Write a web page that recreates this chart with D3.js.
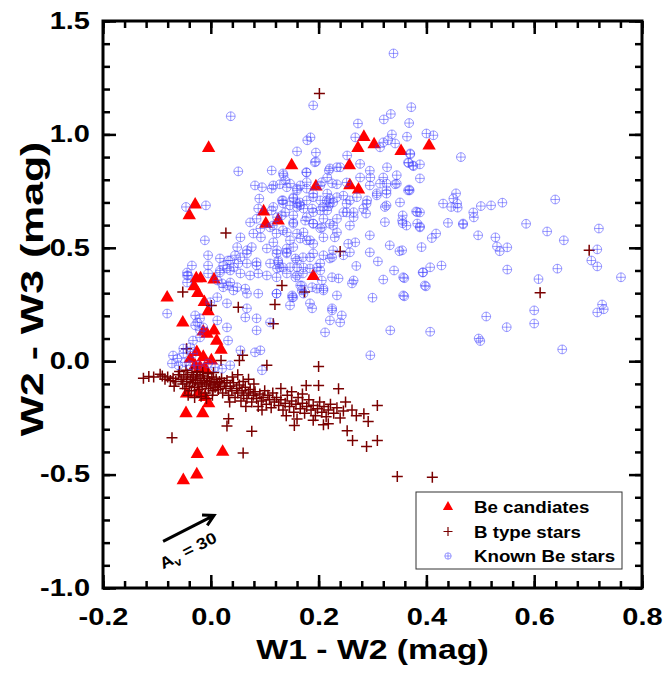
<!DOCTYPE html>
<html lang="en">
<head>
<meta charset="utf-8">
<title>WISE colour-colour diagram</title>
<script src="https://cdn.jsdelivr.net/npm/d3@7"></script>
<style>
  body { margin: 0; background: #fff; }
  text { font-family: "Liberation Sans", Arial, sans-serif; font-weight: bold; }
</style>
</head>
<body>
<script>

var width = 665;
var height = 675;

// tick labels
var xTicks = [-0.2, 0.0, 0.2, 0.4, 0.6, 0.8];
var yTicks = [-1.0, -0.5, 0.0, 0.5, 1.0, 1.5];
var legendLabels = ["Be candiates", "B type stars", "Known Be stars"];

// Be candidates (W1-W2, W2-W3)
var beCandidates = [
  [-0.004,0.94],[-0.029,0.69],[-0.040,0.643],[0.150,0.863],[0.195,0.770],[0.098,0.660],
  [0.102,0.606],[0.125,0.620],[0.190,0.375],[-0.081,0.280],[-0.027,0.365],[-0.019,0.365],
  [0.006,0.360],[-0.031,0.330],[-0.024,0.300],[-0.012,0.260],[-0.005,0.220],[-0.052,0.170],
  [-0.014,0.130],[-0.007,0.120],[0.006,0.135],[0.011,0.090],[0.019,0.050],[-0.026,0.040],
  [-0.038,0.010],[-0.014,0.018],[0.001,0.003],[-0.029,-0.020],[-0.020,-0.026],[-0.011,-0.030],
  [-0.045,-0.143],[-0.023,-0.140],[-0.011,-0.158],[-0.004,-0.186],[-0.046,-0.230],[-0.015,-0.230],
  [-0.025,-0.410],[0.022,-0.400],[-0.051,-0.525],[-0.026,-0.500],[0.284,0.988],[0.303,0.956],
  [0.273,0.940],[0.353,0.926],[0.405,0.950],[0.257,0.863],[0.258,0.775],[0.274,0.756]
];

// B type stars
var bTypeStars = [
  [-0.060,-0.060],[-0.055,-0.080],[-0.052,-0.100],[-0.050,-0.070],[-0.048,-0.120],[-0.045,-0.090],
  [-0.043,-0.060],[-0.040,-0.110],[-0.038,-0.080],[-0.036,-0.130],[-0.034,-0.095],[-0.032,-0.070],
  [-0.030,-0.115],[-0.028,-0.085],[-0.026,-0.060],[-0.024,-0.100],[-0.022,-0.125],[-0.020,-0.075],
  [-0.018,-0.095],[-0.016,-0.110],[-0.014,-0.065],[-0.012,-0.085],[-0.010,-0.140],[-0.008,-0.100],
  [-0.006,-0.075],[-0.004,-0.120],[-0.002,-0.090],[0.000,-0.105],[0.002,-0.070],[0.004,-0.130],
  [0.006,-0.095],[0.008,-0.115],[0.010,-0.080],[0.012,-0.100],[0.014,-0.125],[0.016,-0.090],
  [0.018,-0.110],[0.020,-0.075],[-0.058,-0.045],[-0.046,-0.040],[-0.035,-0.050],[-0.025,-0.045],
  [-0.015,-0.050],[-0.005,-0.055],[0.005,-0.050],[-0.042,-0.150],[-0.030,-0.160],[-0.018,-0.155],
  [-0.008,-0.165],[0.003,-0.150],[-0.065,-0.090],[-0.070,-0.075],[-0.075,-0.085],[-0.068,-0.110],
  [-0.080,-0.070],[-0.085,-0.080],[-0.090,-0.065],
  [0.022,-0.140],[0.025,-0.095],[0.028,-0.120],[0.030,-0.085],[0.033,-0.150],[0.036,-0.110],
  [0.039,-0.130],[0.042,-0.095],[0.045,-0.160],[0.048,-0.120],[0.050,-0.140],[0.053,-0.105],
  [0.056,-0.175],[0.058,-0.130],[0.061,-0.150],[0.064,-0.115],[0.067,-0.165],[0.070,-0.140],
  [0.073,-0.125],[0.076,-0.180],[0.079,-0.150],[0.082,-0.135],[0.085,-0.165],[0.088,-0.200],
  [0.091,-0.145],[0.094,-0.175],[0.097,-0.160],[0.100,-0.130],[0.103,-0.190],[0.106,-0.150],
  [0.109,-0.170],[0.112,-0.205],[0.115,-0.140],[0.118,-0.180],[0.040,-0.070],[0.060,-0.090],
  [0.080,-0.100],[0.035,-0.180],[0.065,-0.200],[0.095,-0.215],[0.050,-0.060],[0.070,-0.080],
  [0.122,-0.160],[0.126,-0.195],[0.130,-0.170],[0.134,-0.215],[0.138,-0.185],[0.142,-0.150],
  [0.146,-0.200],[0.150,-0.175],[0.154,-0.225],[0.158,-0.190],[0.162,-0.160],[0.166,-0.210],
  [0.170,-0.185],[0.174,-0.230],[0.178,-0.200],[0.182,-0.170],[0.186,-0.215],[0.190,-0.195],
  [0.194,-0.240],[0.198,-0.210],[0.202,-0.180],[0.206,-0.225],[0.210,-0.200],[0.214,-0.245],
  [0.218,-0.215],[0.222,-0.190],[0.228,-0.230],[0.234,-0.205],[0.240,-0.250],[0.246,-0.220],
  [0.130,-0.120],[0.150,-0.135],[0.170,-0.145],[0.140,-0.240],[0.160,-0.255],[0.190,-0.260],
  [0.250,-0.180],[0.262,-0.215],[0.270,-0.240],
  [0.2015,1.18],[0.028,0.565],[0.132,0.334],[-0.052,0.305],[0.174,0.305],[0.240,0.484],
  [0.119,0.250],[0.001,0.246],[0.051,0.238],[0.116,0.165],[0.200,-0.023],[0.104,-0.018],
  [0.059,0.026],[0.053,0.003],[0.019,0.003],[-0.045,0.055],[-0.106,-0.070],[-0.094,-0.058],
  [-0.125,-0.075],[-0.115,-0.068],[-0.072,-0.337],[0.033,-0.254],[0.030,-0.286],[0.076,-0.309],
  [0.209,-0.280],[0.218,-0.276],[0.253,-0.307],[0.237,-0.121],[0.200,-0.107],[0.177,-0.107],
  [0.060,-0.405],[0.155,-0.283],[0.263,-0.350],[0.289,-0.376],[0.284,-0.232],[0.292,-0.266],
  [0.346,-0.508],[0.309,-0.195],[0.309,-0.350],[0.411,-0.512],[0.702,0.489],[0.611,0.302]
];

// Known Be stars
var knownBeStars = [
  [0.339,1.357],[0.190,1.128],[0.037,1.080],[0.372,1.120],[0.334,1.090],[0.321,1.066],
  [0.273,1.048],[0.368,1.050],[0.185,0.987],[0.179,0.974],[0.268,0.987],[0.336,1.000],
  [0.329,0.974],[0.364,0.990],[0.400,1.004],[0.413,0.996],[0.160,0.925],[0.195,0.920],
  [0.195,0.880],[0.253,0.907],[0.314,0.943],[0.320,0.965],[0.342,0.960],[0.370,0.916],
  [0.366,0.876],[0.375,0.863],[0.388,0.868],[0.464,0.900],[0.134,0.828],[0.178,0.832],
  [0.221,0.850],[0.240,0.855],[0.277,0.870],[0.295,0.840],[0.327,0.855],[0.388,0.806],
  [0.345,0.820],[0.320,0.810],[0.277,0.810],[0.296,0.810],[0.216,0.810],[0.203,0.775],
  [0.166,0.775],[0.141,0.767],[0.128,0.780],[0.234,0.780],[0.252,0.788],[0.314,0.783],
  [0.342,0.780],[0.366,0.753],[0.326,0.753],[0.308,0.740],[0.271,0.723],[0.246,0.730],
  [0.221,0.717],[0.190,0.723],[0.153,0.722],[0.134,0.696],[0.166,0.687],[0.208,0.680],
  [0.252,0.695],[0.289,0.695],[0.326,0.687],[0.351,0.700],[0.388,0.656],[0.431,0.695],
  [0.450,0.717],[0.457,0.695],
  [0.370,0.912],[0.367,0.874],[0.376,0.860],[0.368,0.757],[0.455,0.740],[0.446,0.680],
  [0.458,0.677],[0.501,0.684],[0.520,0.687],[0.541,0.699],[0.639,0.713],[0.381,0.660],
  [0.356,0.643],[0.356,0.608],[0.363,0.598],[0.388,0.594],[0.440,0.610],[0.468,0.603],
  [0.488,0.634],[0.585,0.606],[0.624,0.572],[0.720,0.585],[0.418,0.563],[0.410,0.543],
  [0.496,0.555],[0.528,0.546],[0.655,0.533],[0.350,0.485],[0.391,0.503],[0.531,0.506],
  [0.536,0.485],[0.550,0.502],[0.717,0.493],[0.706,0.444],[0.717,0.418],[0.428,0.422],
  [0.407,0.414],[0.393,0.391],[0.550,0.404],[0.643,0.408],[0.761,0.370],[0.359,0.366],
  [0.608,0.362],[0.399,0.330],[0.359,0.286],[0.726,0.250],[0.729,0.229],[0.717,0.215],
  [0.600,0.224],[0.511,0.197],[0.549,0.150],[0.600,0.166],[0.407,0.130],[0.497,0.100],
  [0.500,0.089],[0.652,0.052],
  [0.116,0.775],[0.147,0.783],[0.160,0.753],[0.178,0.761],[0.216,0.739],[0.295,0.775],
  [0.326,0.783],[0.345,0.783],[0.369,0.753],[0.132,0.709],[0.160,0.695],[0.178,0.709],
  [0.203,0.709],[0.221,0.695],[0.234,0.723],[0.258,0.709],[0.290,0.709],[0.308,0.731],
  [0.326,0.739],[0.116,0.680],[0.147,0.687],[0.172,0.673],[0.190,0.657],[0.216,0.665],
  [0.246,0.657],[0.265,0.657],[0.283,0.673],[0.323,0.680],[0.383,0.657],[0.123,0.635],
  [0.153,0.643],[0.178,0.635],[0.209,0.628],[0.234,0.628],[0.265,0.635],[0.153,0.606],
  [0.190,0.606],[0.221,0.606],[0.258,0.598],[0.323,0.613],[0.388,0.590],[0.110,0.590],
  [0.134,0.577],[0.172,0.568],[0.203,0.586],[0.234,0.568],[0.116,0.524],[0.147,0.533],
  [0.166,0.541],[0.184,0.533],[0.295,0.555],[0.123,0.489],[0.141,0.497],[0.153,0.503],
  [0.190,0.518],[0.255,0.518],[0.268,0.524],[0.295,0.480],[0.332,0.511],[0.355,0.489],
  [0.125,0.444],[0.160,0.444],[0.184,0.458],[0.221,0.453],[0.246,0.467],[0.258,0.480],
  [0.123,0.409],[0.134,0.413],[0.147,0.414],[0.172,0.413],[0.197,0.413],[0.203,0.400],
  [0.394,0.392],[0.357,0.370],[0.237,0.365],[0.262,0.343],[0.265,0.356],[0.166,0.334],
  [0.397,0.334],[0.172,0.298],[0.197,0.320],[0.209,0.320],[0.234,0.290],[0.151,0.281],
  [0.184,0.255],[0.357,0.290],[0.147,0.246],[0.225,0.233],[0.243,0.202],[0.188,0.233],
  [0.051,0.837],[0.113,0.841],[0.135,0.820],[0.177,0.833],[0.193,0.877],[0.219,0.841],
  [0.234,0.855],[0.082,0.775],[0.095,0.767],[0.113,0.761],[0.138,0.797],[0.160,0.761],
  [0.178,0.789],[0.190,0.739],[0.206,0.789],[0.225,0.784],[0.090,0.717],[0.134,0.709],
  [0.153,0.717],[0.165,0.700],[0.215,0.709],[0.227,0.700],[-0.046,0.680],[-0.009,0.687],
  [0.088,0.673],[0.113,0.665],[0.132,0.643],[0.160,0.680],[0.188,0.673],[0.203,0.665],
  [0.218,0.683],[0.073,0.612],[0.085,0.628],[0.092,0.585],[0.115,0.598],[0.153,0.612],
  [0.175,0.620],[0.190,0.607],[0.206,0.590],[0.227,0.598],[0.055,0.546],[0.079,0.563],
  [0.093,0.546],[0.122,0.563],[0.141,0.568],[0.160,0.563],[0.178,0.533],[0.209,0.546],
  [0.230,0.546],[-0.011,0.533],[0.049,0.503],[0.067,0.489],[0.076,0.503],[0.104,0.497],
  [0.122,0.475],[0.141,0.480],[0.157,0.453],[0.171,0.458],[0.190,0.475],[0.209,0.467],
  [0.227,0.489],[0.036,0.444],[0.055,0.458],[0.067,0.431],[0.085,0.436],[0.110,0.431],
  [0.128,0.414],[0.160,0.414],[0.184,0.409],[0.203,0.431],[0.225,0.458],[-0.005,0.422],
  [0.017,0.400],[0.030,0.409],[0.042,0.414],[0.055,0.387],[0.073,0.378],[0.088,0.387],
  [0.104,0.378],[0.122,0.370],[0.141,0.387],[0.157,0.370],[0.171,0.387],[0.206,0.356],
  [0.225,0.370],[-0.044,0.378],[0.021,0.343],[0.032,0.334],[0.049,0.326],[0.064,0.320],
  [0.088,0.298],[0.122,0.298],[0.151,0.290],[0.169,0.312],[0.209,0.312],
  [0.032,0.444],[0.045,0.467],[0.051,0.431],[0.067,0.475],[0.085,0.422],[0.125,0.436],
  [0.141,0.475],[0.160,0.378],[0.169,0.334],[0.188,0.326],[0.225,0.224],[0.221,0.180],
  [0.212,0.127],[0.240,0.171],[0.153,0.282],[0.122,0.298],[0.067,0.298],[0.042,0.312],
  [0.023,0.326],[0.012,0.356],[0.017,0.391],[0.036,0.347],[-0.005,0.387],[-0.042,0.378],
  [-0.044,0.347],[-0.081,0.210],[-0.029,0.202],[-0.025,0.171],[-0.020,0.189],[0.012,0.180],
  [0.030,0.149],[0.064,0.193],[0.067,0.233],[0.085,0.189],[0.085,0.136],[0.110,0.171],
  [0.032,0.091],[0.055,0.048],[0.092,0.048],[0.082,0.039],[0.095,-0.040],[-0.033,0.091],
  [-0.020,0.105],[-0.038,0.061],[-0.051,0.056],[-0.070,0.025],[-0.062,0.012],[-0.072,-0.010],
  [-0.060,-0.018],[-0.048,-0.005],[-0.038,-0.018],[-0.024,-0.018],[-0.005,-0.010],[0.008,-0.027],
  [0.021,-0.033],[0.036,-0.018],[-0.051,0.034],[-0.033,0.034],[-0.020,0.136],[-0.029,0.158],
  [-0.014,0.149],[-0.044,0.391],[-0.035,0.422],[0.023,0.422],[0.036,0.400],[0.017,0.453],
  [-0.005,0.467],[0.012,0.282],[-0.001,0.260],[0.030,0.255],
  [0.138,0.656],[0.252,0.656],[0.288,0.651],[0.355,0.620],[0.383,0.607],[0.487,0.656],
  [0.468,0.607],[0.296,0.026],[0.333,0.136],[0.300,0.280],[0.320,0.360],[0.270,0.420],
  [0.310,0.440],[0.340,0.400]
];

var x = d3.scaleLinear().domain([-0.2, 0.8]).range([103, 642]);
var y = d3.scaleLinear().domain([-1.0, 1.5]).range([588, 21]);

var svg = d3.select("body").append("svg")
  .attr("width", width)
  .attr("height", height);

svg.append("rect").attr("width", width).attr("height", height).attr("fill", "#fff");

var fmt = function (d) { return d.toFixed(1); };
var xMinor = d3.range(-0.2, 0.801, 0.04);
var yMinor = d3.range(-1.0, 1.501, 0.1);

// the original lettering is wide, so labels get a horizontal stretch
var labelStretch = 1.26;

function styleAxis(g) {
  g.select(".domain").remove();
  g.selectAll(".tick line").attr("stroke", "#000").attr("stroke-width", 2.5);
  g.selectAll(".tick text").attr("fill", "#000").attr("font-size", 23)
    .style("font-family", "'Liberation Sans', Arial, sans-serif").style("font-weight", "bold")
    .each(function () {
      var t = d3.select(this);
      var tx = +t.attr("x") || 0, ty = +t.attr("y") || 0;
      t.attr("x", 0).attr("y", 0)
        .attr("transform", "translate(" + tx + "," + ty + ") scale(" + labelStretch + ",1)");
    });
}

// minor ticks on all four sides
svg.append("g").attr("transform", "translate(0,588)")
  .call(d3.axisBottom(x).tickValues(xMinor).tickSize(-7).tickFormat("")).call(styleAxis);
svg.append("g").attr("transform", "translate(0,21)")
  .call(d3.axisTop(x).tickValues(xMinor).tickSize(-7).tickFormat("")).call(styleAxis);
svg.append("g").attr("transform", "translate(103,0)")
  .call(d3.axisLeft(y).tickValues(yMinor).tickSize(-7).tickFormat("")).call(styleAxis);
svg.append("g").attr("transform", "translate(642,0)")
  .call(d3.axisRight(y).tickValues(yMinor).tickSize(-7).tickFormat("")).call(styleAxis);

// major ticks
svg.append("g").attr("transform", "translate(0,588)")
  .call(d3.axisBottom(x).tickValues(xTicks).tickSize(-13).tickPadding(21).tickFormat(fmt)).call(styleAxis);
svg.append("g").attr("transform", "translate(0,21)")
  .call(d3.axisTop(x).tickValues(xTicks).tickSize(-13).tickFormat("")).call(styleAxis);
svg.append("g").attr("transform", "translate(103,0)")
  .call(d3.axisLeft(y).tickValues(yTicks).tickSize(-13).tickPadding(13).tickFormat(fmt)).call(styleAxis);
svg.append("g").attr("transform", "translate(642,0)")
  .call(d3.axisRight(y).tickValues(yTicks).tickSize(-13).tickFormat("")).call(styleAxis);

// frame
svg.append("rect")
  .attr("x", 103).attr("y", 21).attr("width", 642 - 103).attr("height", 588 - 21)
  .attr("fill", "none").attr("stroke", "#000").attr("stroke-width", 3);

var plot = svg.append("g");

var triangle = d3.symbol().type(d3.symbolTriangle).size(78);
function plusPath(r) { return "M" + (-r) + ",0H" + r + "M0," + (-r) + "V" + r; }
function circlePlusPath(r) {
  return "M" + r + ",0A" + r + "," + r + " 0 1,1 " + (-r) + ",0A" + r + "," + r + " 0 1,1 " + r + ",0" + plusPath(r);
}

plot.selectAll(".cand")
  .data(beCandidates)
  .enter()
  .append("path")
  .attr("class", "cand")
  .attr("d", triangle)
  .attr("transform", function (d) { return "translate(" + x(d[0]) + "," + y(d[1]) + ")"; })
  .attr("fill", "#ff0000");

plot.selectAll(".bstar")
  .data(bTypeStars)
  .enter()
  .append("path")
  .attr("class", "bstar")
  .attr("d", plusPath(5.5))
  .attr("transform", function (d) { return "translate(" + x(d[0]) + "," + y(d[1]) + ")"; })
  .attr("fill", "none")
  .attr("stroke", "#7a0000")
  .attr("stroke-width", 1.5);

plot.selectAll(".known")
  .data(knownBeStars)
  .enter()
  .append("path")
  .attr("class", "known")
  .attr("d", circlePlusPath(4.4))
  .attr("transform", function (d) { return "translate(" + x(d[0]) + "," + y(d[1]) + ")"; })
  .attr("fill", "none")
  .attr("stroke", "#3c3cff")
  .attr("stroke-opacity", 0.5)
  .attr("stroke-width", 1);

// extinction vector
var arrowStart = [-0.0885, -0.7945];
var arrowEnd = [0.006, -0.68];
var ax0 = x(arrowStart[0]), ay0 = y(arrowStart[1]), ax1 = x(arrowEnd[0]), ay1 = y(arrowEnd[1]);
var ang = Math.atan2(ay1 - ay0, ax1 - ax0);
var headLen = 12, headAng = 0.5;
svg.append("path")
  .attr("d", "M" + ax0 + "," + ay0 + "L" + ax1 + "," + ay1 +
    "M" + (ax1 - headLen * Math.cos(ang - headAng)) + "," + (ay1 - headLen * Math.sin(ang - headAng)) +
    "L" + ax1 + "," + ay1 +
    "L" + (ax1 - headLen * Math.cos(ang + headAng)) + "," + (ay1 - headLen * Math.sin(ang + headAng)))
  .attr("fill", "none")
  .attr("stroke", "#000")
  .attr("stroke-width", 3);

var avLabel = svg.append("text")
  .attr("transform", "translate(" + ((ax0 + ax1) / 2 + 2) + "," + ((ay0 + ay1) / 2 + 27) + ") rotate(" + (ang * 180 / Math.PI) + ") scale(1.15,1)")
  .attr("text-anchor", "middle")
  .attr("font-size", 16);
avLabel.append("tspan").text("A");
avLabel.append("tspan").attr("font-size", 11).attr("dy", 4).text("v");
avLabel.append("tspan").attr("dy", -4).text(" = 30");

// axis titles
svg.append("text")
  .attr("transform", "translate(" + (103 + 642) / 2 + ",659) scale(1.25,1)")
  .attr("text-anchor", "middle").attr("font-size", 27)
  .text("W1 - W2 (mag)");
svg.append("text")
  .attr("transform", "translate(43,289) rotate(-90) scale(1.38,1)")
  .attr("text-anchor", "middle").attr("font-size", 31)
  .text("W2 - W3 (mag)");

// legend
var legend = svg.append("g");
legend.append("rect")
  .attr("x", 416).attr("y", 492).attr("width", 206).attr("height", 77)
  .attr("fill", "#fff").attr("stroke", "#333").attr("stroke-width", 1);
var rows = legend.selectAll(".row").data(legendLabels).enter().append("g")
  .attr("transform", function (d, i) { return "translate(0," + (507 + i * 24.5) + ")"; });
rows.append("text")
  .attr("transform", "translate(474,6) scale(1.1,1)")
  .attr("font-size", 17).text(function (d) { return d; });
rows.filter(function (d, i) { return i === 0; }).append("path")
  .attr("d", d3.symbol().type(d3.symbolTriangle).size(45))
  .attr("transform", "translate(448,0)").attr("fill", "#ff0000");
rows.filter(function (d, i) { return i === 1; }).append("path")
  .attr("d", plusPath(4.5)).attr("transform", "translate(448,0)")
  .attr("stroke", "#7a0000").attr("stroke-width", 1.2);
rows.filter(function (d, i) { return i === 2; }).append("path")
  .attr("d", circlePlusPath(3.2)).attr("transform", "translate(448,0)")
  .attr("fill", "none").attr("stroke", "#3c3cff").attr("stroke-opacity", 0.5).attr("stroke-width", 1);

</script>
</body>
</html>
